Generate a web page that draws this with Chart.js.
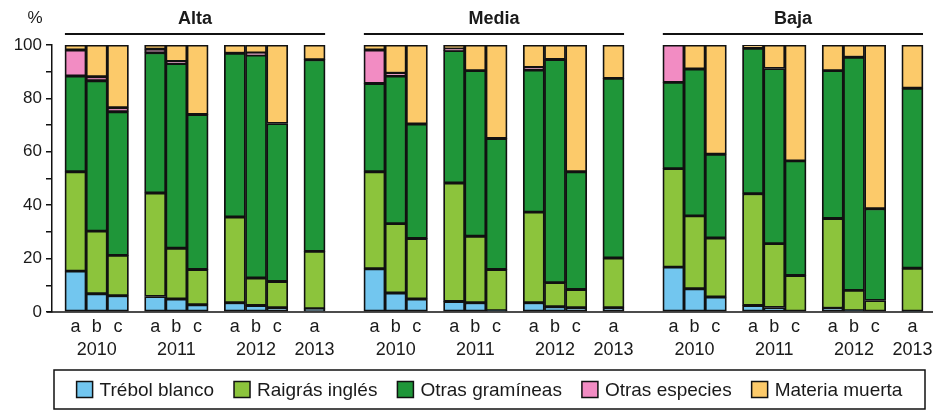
<!DOCTYPE html>
<html lang="es">
<head>
<meta charset="utf-8">
<title>Composición botánica</title>
<script src="https://cdn.jsdelivr.net/npm/chart.js@4.4.1/dist/chart.umd.min.js"></script>
<style>
  body { margin: 0; background: #fff; }
  #wrap { width: 940px; height: 411px; position: relative; }
</style>
</head>
<body>
<div id="wrap"><canvas id="pastureChart"></canvas></div>
<script>
// categories
const panels = ['Alta', 'Media', 'Baja'];
const years = ['2010', '2011', '2012', '2013'];
const cuts = [['a', 'b', 'c'], ['a', 'b', 'c'], ['a', 'b', 'c'], ['a']];
const seriesNames = ['Trébol blanco', 'Raigrás inglés', 'Otras gramíneas', 'Otras especies', 'Materia muerta'];

// % per bar, order: Alta 2010a..2013a, Media 2010a..2013a, Baja 2010a..2013a
const trebolBlanco = [
    15.3, 6.8, 6.1, 5.8, 4.9, 2.7, 3.5, 2.4, 1.6, 1.2,
    16.2, 7.1, 4.9, 3.9, 3.5, 0.5, 3.5, 2.0, 1.6, 1.6,
    16.8, 8.7, 5.6, 2.4, 1.7, 0, 1.4, 0.5, 0, 0.3
];
const raigrasIngles = [
    37.2, 23.5, 15.1, 38.8, 19.0, 13.2, 32.1, 10.3, 9.8, 21.5,
    36.3, 26.0, 22.6, 44.4, 24.9, 15.4, 33.9, 9.0, 6.8, 18.6,
    36.9, 27.3, 22.1, 41.9, 23.9, 13.7, 33.6, 7.6, 4.3, 16.1
];
const otrasGramineas = [
    35.9, 56.3, 53.8, 52.5, 69.2, 58.1, 61.3, 83.5, 59.2, 71.8,
    33.1, 55.3, 42.9, 49.6, 62.0, 49.1, 53.2, 83.6, 44.1, 67.3,
    32.3, 55.0, 31.4, 54.5, 65.6, 42.9, 55.4, 87.3, 34.4, 67.4
];
const otrasEspecies = [
    9.7, 1.5, 1.5, 1.3, 0.7, 0, 0, 0.8, 0, 0,
    12.5, 1.0, 0, 0.6, 0, 0, 1.0, 0, 0, 0,
    14.0, 0, 0, 0, 0, 0, 0, 0, 0, 0
];
const materiaMuerta = [
    1.9, 11.9, 23.5, 1.6, 6.2, 26.0, 3.1, 3.0, 29.4, 5.5,
    1.9, 10.6, 29.6, 1.5, 9.6, 35.0, 8.4, 5.4, 47.5, 12.5,
    0, 9.0, 40.9, 1.2, 8.8, 43.4, 9.6, 4.6, 61.3, 16.2
];

const colors = ['#72c6ef', '#8cc43c', '#1f9639', '#f28cc3', '#fcca6a'];
const values = [trebolBlanco, raigrasIngles, otrasGramineas, otrasEspecies, materiaMuerta];

// bar slots on a linear axis: 1 unit = one bar width
const YEAR_STEP = 3.76;
const PANEL_STEP = 14.11;
const bars = [];
panels.forEach((panel, p) => {
    years.forEach((year, y) => {
        cuts[y].forEach((cut, c) => {
            bars.push({ panel: p, year: y, cut: cut, x: p * PANEL_STEP + y * YEAR_STEP + c });
        });
    });
});

const FONT = "'Liberation Sans', Arial, sans-serif";
Chart.defaults.font.family = FONT;
Chart.defaults.color = '#1a1a1a';

const decorations = {
    id: 'decorations',
    afterDraw(chart) {
        const ctx = chart.ctx;
        const xs = chart.scales.x;
        const area = chart.chartArea;
        ctx.save();
        ctx.strokeStyle = '#111';
        ctx.fillStyle = '#1a1a1a';

        // baseline
        ctx.lineWidth = 1.5;
        ctx.beginPath();
        ctx.moveTo(area.left - 5, area.bottom);
        ctx.lineTo(area.right + 3, area.bottom);
        ctx.stroke();

        // % label
        ctx.font = '17px ' + FONT;
        ctx.textAlign = 'center';
        ctx.textBaseline = 'middle';
        ctx.fillText('%', 35, 18);

        // panel titles with rule
        panels.forEach((name, p) => {
            const own = bars.filter(b => b.panel === p);
            const left = xs.getPixelForValue(own[0].x - 0.5);
            const right = xs.getPixelForValue(own[own.length - 1].x + 0.5);
            ctx.lineWidth = 2;
            ctx.beginPath();
            ctx.moveTo(left, 34);
            ctx.lineTo(right, 34);
            ctx.stroke();
            ctx.font = 'bold 18px ' + FONT;
            ctx.fillText(name, (left + right) / 2, 19);
        });

        // cut letters and years
        ctx.font = '18px ' + FONT;
        bars.forEach(b => {
            ctx.fillText(b.cut, xs.getPixelForValue(b.x), area.bottom + 15);
        });
        panels.forEach((name, p) => {
            years.forEach((year, y) => {
                const grp = bars.filter(b => b.panel === p && b.year === y);
                const mid = (grp[0].x + grp[grp.length - 1].x) / 2;
                ctx.fillText(year, xs.getPixelForValue(mid), area.bottom + 38);
            });
        });

        // legend in a frame
        ctx.lineWidth = 1.5;
        ctx.strokeRect(54, 370, 871, 39);
        ctx.font = '19px ' + FONT;
        const box = 16, boxGap = 7, itemGap = 20;
        const widths = seriesNames.map(n => ctx.measureText(n).width);
        const total = widths.reduce((a, w) => a + w + box + boxGap, 0) + itemGap * (seriesNames.length - 1);
        let x = 54 + (871 - total) / 2;
        const cy = 389.5;
        ctx.textAlign = 'left';
        seriesNames.forEach((n, i) => {
            ctx.fillStyle = colors[i];
            ctx.fillRect(x, cy - box / 2, box, box);
            ctx.strokeRect(x, cy - box / 2, box, box);
            ctx.fillStyle = '#1a1a1a';
            ctx.fillText(n, x + box + boxGap, cy + 1);
            x += box + boxGap + widths[i] + itemGap;
        });
        ctx.restore();
    }
};

new Chart(document.getElementById('pastureChart'), {
    type: 'bar',
    data: {
        datasets: seriesNames.map((name, i) => ({
            label: name,
            data: values[i].map((v, k) => ({ x: bars[k].x, y: v })),
            backgroundColor: colors[i],
            borderColor: '#111',
            borderWidth: 1.8,
            borderSkipped: false,
            barPercentage: 1,
            categoryPercentage: 1
        }))
    },
    options: {
        responsive: true,
        maintainAspectRatio: false,
        animation: false,
        layout: { padding: { top: 45, bottom: 99, left: 0, right: 10 } },
        plugins: {
            legend: { display: false },
            tooltip: { enabled: false }
        },
        scales: {
            x: {
                type: 'linear',
                stacked: true,
                display: false,
                offset: false,
                min: -1.11,
                max: 40.33,
                afterBuildTicks: s => { s.ticks = [{ value: s.min }, { value: s.max }]; }
            },
            y: {
                stacked: true,
                min: 0,
                max: 100,
                afterFit: s => { s.width = 52; },
                border: { display: true, color: '#111', width: 1.5 },
                grid: { drawOnChartArea: false, drawTicks: true, tickLength: 6, color: '#111', lineWidth: 1.5 },
                ticks: {
                    stepSize: 10,
                    padding: 4,
                    font: { size: 17 },
                    color: '#1a1a1a',
                    callback: v => (v % 20 === 0 ? v : '')
                }
            }
        }
    },
    plugins: [decorations]
});
</script>
</body>
</html>
